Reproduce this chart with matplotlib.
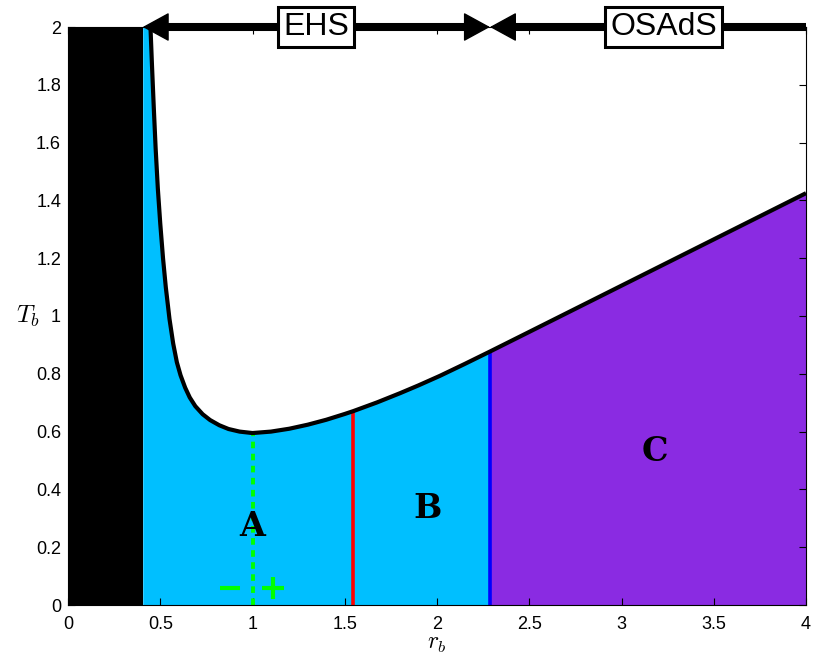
import matplotlib
matplotlib.use("Agg")
import matplotlib.pyplot as plt
import numpy as np

# ---- data ----
curve_r = [0.447, 0.455, 0.465, 0.475, 0.487, 0.50, 0.515, 0.53, 0.55, 0.57, 0.59,
           0.61, 0.635, 0.66, 0.69, 0.73, 0.77, 0.82, 0.87, 0.93, 1.00,
           1.10, 1.20, 1.30, 1.40, 1.50, 1.547, 1.675, 1.80, 1.90, 2.016, 2.15, 2.287,
           2.50, 2.75, 3.00, 3.25, 3.50, 3.75, 4.00]
curve_T = [2.00, 1.87, 1.72, 1.58, 1.44, 1.32, 1.20, 1.10, 0.99, 0.905, 0.84,
           0.795, 0.752, 0.718, 0.688, 0.66, 0.64, 0.622, 0.609, 0.600, 0.595,
           0.600, 0.610, 0.624, 0.641, 0.661, 0.671, 0.701, 0.733, 0.760, 0.793, 0.834, 0.877,
           0.945, 1.025, 1.105, 1.185, 1.265, 1.345, 1.425]

r_black = 0.405          # end of black excluded region
r_min = 1.0              # green dotted line (minimum)
r_red = 1.547            # red line
r_blue = 2.287           # blue line / EHS-OSAdS boundary
sign_r = [0.878, 1.113]  # green "-" and "+"
sign_T = [0.06, 0.06]
region_labels = ["A", "B", "C"]
region_r = [1.0, 1.95, 3.18]
region_T = [0.27, 0.335, 0.53]
top_labels = ["EHS", "OSAdS"]
top_label_r = [1.345, 3.23]
xticks = [0, 0.5, 1, 1.5, 2, 2.5, 3, 3.5, 4]
yticks = [0, 0.2, 0.4, 0.6, 0.8, 1, 1.2, 1.4, 1.6, 1.8, 2]

plt.rcParams['mathtext.fontset'] = 'cm'
plt.rcParams['font.family'] = ['Liberation Sans', 'DejaVu Sans']

fig = plt.figure(figsize=(8.13, 6.56), dpi=100)
ax = fig.add_axes([68/813, 51/656, 738/813, 578/656])

cr = np.array(curve_r)
cT = np.array(curve_T)
ib = int(np.argmin(np.abs(cr - r_blue)))

# fills
ax.fill_between([0, r_black], 0, 2, color='black', lw=0)
ax.fill_between(np.concatenate([[r_black], cr[:ib+1]]), 0,
                np.concatenate([[2.0], cT[:ib+1]]), color='#00BFFF', lw=0)
ax.fill_between(cr[ib:], 0, cT[ib:], color='#8A2BE2', lw=0)

# vertical lines
T_at = lambda r: cT[int(np.argmin(np.abs(cr - r)))]
ax.plot([r_red, r_red], [0, T_at(r_red)], color='red', lw=2.6, solid_capstyle='butt')
ax.plot([r_blue, r_blue], [0, T_at(r_blue)], color='blue', lw=2.6, solid_capstyle='butt')
ax.plot([r_min, r_min], [0, T_at(r_min)], color='#00FF00', lw=2.8,
        linestyle=(0, (1.7, 1.4)), dash_capstyle='butt')

# curve
ax.plot(cr, cT, color='black', lw=3.0, solid_joinstyle='round', solid_capstyle='butt')

# green signs
ax.plot(sign_r[0], sign_T[0], marker='_', ms=15, mew=3, color='#00FF00', clip_on=False)
ax.plot(sign_r[1], sign_T[1], marker='+', ms=16, mew=3, color='#00FF00', clip_on=False)

# region letters
for lab, rr, tt in zip(region_labels, region_r, region_T):
    ax.text(rr, tt, lab, fontsize=24, fontweight='bold', family='DejaVu Serif',
            ha='center', va='center', color='black')

# top arrows
ytop = 2.0
hl = 0.135
ax.plot([r_black + hl*0.8, r_blue - hl*0.8], [ytop, ytop], color='black', lw=5.8,
        solid_capstyle='butt', clip_on=False, zorder=5)
ax.plot([r_blue + hl*0.8, 4.0], [ytop, ytop], color='black', lw=5.8,
        solid_capstyle='butt', clip_on=False, zorder=5)
astyle = dict(arrowstyle='-|>,head_length=0.86,head_width=0.47', color='black', lw=1,
              shrinkA=0, shrinkB=0, mutation_scale=20)
for tip, tail in [(r_black, r_black + 0.3), (r_blue, r_blue - 0.3), (r_blue, r_blue + 0.3)]:
    ax.annotate('', xy=(tip, ytop), xytext=(tail, ytop), arrowprops=astyle,
                annotation_clip=False, zorder=6)
for lab, rr in zip(top_labels, top_label_r):
    ax.text(rr, ytop, lab, fontsize=23, ha='center', va='center', zorder=7,
            bbox=dict(boxstyle='square,pad=0.16', fc='white', ec='black', lw=2.2),
            clip_on=False)

ax.set_xlim(0, 4)
ax.set_ylim(0, 2)
ax.set_xticks(xticks)
ax.set_xticklabels([f"{v:g}" for v in xticks])
ax.set_yticks(yticks)
ax.set_yticklabels([f"{v:g}" for v in yticks])
ax.tick_params(direction='in', top=True, right=True, length=5, width=0.8, labelsize=13)
ax.tick_params(axis='x', pad=8)
ax.tick_params(axis='y', pad=5)
for s in ax.spines.values():
    s.set_linewidth(0.8)

ax.set_xlabel(r'$r_b$', fontsize=17, labelpad=0)
ax.set_ylabel(r'$T_b$', fontsize=18, rotation=0, labelpad=6, va='center')

fig.savefig('out.png', dpi=100)
